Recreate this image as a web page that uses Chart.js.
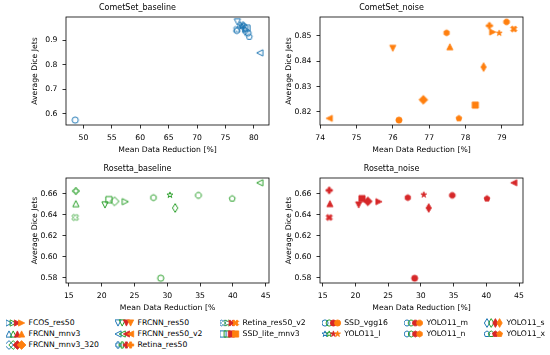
<!DOCTYPE html>
<html>
<head>
<meta charset="utf-8">
<script src="https://cdn.jsdelivr.net/npm/chart.js@4.4.1/dist/chart.umd.min.js"></script>
<style>
  body { margin: 0; background: #fff; }
  #wrap { position: relative; width: 550px; height: 355px; overflow: hidden; font-family: 'DejaVu Sans', sans-serif; background: #fff; }
  canvas.panel { position: absolute; }
  .leg { position: absolute; height: 10px; font-size: 7.7px; line-height: 10px; white-space: nowrap; color: #000; }
  .leg canvas { position: absolute; left: 0; top: 0; }
  .leg span { position: absolute; left: 22.5px; top: 0; }
</style>
</head>
<body>
<div id="wrap">
  <canvas id="c1" class="panel"></canvas>
  <canvas id="c2" class="panel"></canvas>
  <canvas id="c3" class="panel"></canvas>
  <canvas id="c4" class="panel"></canvas>
  <div id="legend"></div>
</div>
<script>
// models and their matplotlib-like markers
const models = ['FCOS_res50', 'FRCNN_mnv3', 'FRCNN_mnv3_320', 'FRCNN_res50', 'FRCNN_res50_v2',
  'Retina_res50', 'Retina_res50_v2', 'SSD_lite_mnv3', 'SSD_vgg16', 'YOLO11_l',
  'YOLO11_m', 'YOLO11_n', 'YOLO11_s', 'YOLO11_x'];
const markerShapes = ['>', '^', 'D', 'v', '<', 'P', 'X', 's', 'o', '*', '8', 'h', 'd', 'p'];

// CometSet baseline
const cometBaseX = [78.6, 77.6, 78.3, 77.1, 81.05, 78.1, 77.0, 78.8, 48.55, 77.9, 79.0, 77.0, 78.5, 79.2];
const cometBaseY = [0.945, 0.965, 0.955, 0.976, 0.849, 0.962, 0.945, 0.950, 0.573, 0.958, 0.930, 0.940, 0.938, 0.915];
// CometSet noise
const cometNoiseX = [78.75, 77.57, 76.84, 76.0, 74.25, 78.66, 79.33, 78.27, 76.17, 78.93, 79.13, 77.48, 78.5, 77.82];
const cometNoiseY = [0.8515, 0.8457, 0.8248, 0.8451, 0.8175, 0.854, 0.8527, 0.8227, 0.8168, 0.8511, 0.8555, 0.8512, 0.8377, 0.8175];
// Rosetta baseline
const rosBaseX = [23.6, 16.06, 21.97, 20.5, 44.1, 16.06, 15.97, 21.1, 29.0, 30.4, 34.75, 27.9, 31.2, 39.9];
const rosBaseY = [0.6524, 0.6505, 0.6527, 0.6493, 0.6704, 0.6625, 0.6373, 0.6543, 0.5794, 0.6587, 0.6584, 0.6562, 0.6464, 0.6553];
// Rosetta noise
const rosNoiseX = [23.6, 16.1, 21.9, 20.5, 44.2, 16.0, 16.0, 21.0, 29.05, 30.45, 34.8, 28.0, 31.2, 40.1];
const rosNoiseY = [0.6524, 0.6505, 0.6527, 0.6493, 0.6704, 0.6632, 0.6373, 0.6553, 0.5794, 0.659, 0.6584, 0.6562, 0.6464, 0.6553];

const BLUE = '#1f77b4', ORANGE = '#ff7f0e', GREEN = '#2ca02c', RED = '#d62728';
const MS = 6.2;

Chart.defaults.font.family = "'DejaVu Sans', sans-serif";
Chart.defaults.font.size = 7.7;
Chart.defaults.color = '#000';

function regPoly(n, r, rot) {
  const pts = [];
  for (let i = 0; i < n; i++) {
    const th = 2 * Math.PI * i / n + Math.PI / 2 + rot * Math.PI / 180;
    pts.push([r * Math.cos(th), r * Math.sin(th)]);
  }
  return pts;
}

function shapePoints(shape) {
  switch (shape) {
    case '^': return [[0, 0.5], [-0.5, -0.5], [0.5, -0.5]];
    case 'v': return [[0, -0.5], [-0.5, 0.5], [0.5, 0.5]];
    case '<': return [[-0.5, 0], [0.5, 0.5], [0.5, -0.5]];
    case '>': return [[0.5, 0], [-0.5, 0.5], [-0.5, -0.5]];
    case 's': return [[-0.5, -0.5], [0.5, -0.5], [0.5, 0.5], [-0.5, 0.5]];
    case 'D': return [[0.707, 0], [0, 0.707], [-0.707, 0], [0, -0.707]];
    case 'd': return [[0.424, 0], [0, 0.707], [-0.424, 0], [0, -0.707]];
    case 'P': return [[-1, -3], [-1, -1], [-3, -1], [-3, 1], [-1, 1], [-1, 3], [1, 3], [1, 1], [3, 1], [3, -1], [1, -1], [1, -3]].map(p => [p[0] / 6, p[1] / 6]);
    case 'X': return [[-1, -2], [0, -1], [1, -2], [2, -1], [1, 0], [2, 1], [1, 2], [0, 1], [-1, 2], [-2, 1], [-1, 0], [-2, -1]].map(p => [p[0] / 4, p[1] / 4]);
    case 'p': return regPoly(5, 0.5, 0);
    case 'h': return regPoly(6, 0.5, 0);
    case '8': return regPoly(8, 0.5, 22.5);
    case '*': {
      const pts = [];
      for (let i = 0; i < 10; i++) {
        const th = 2 * Math.PI * i / 10 + Math.PI / 2;
        const r = i % 2 ? 0.5 * 0.381966 : 0.5;
        pts.push([r * Math.cos(th), r * Math.sin(th)]);
      }
      return pts;
    }
  }
  return null;
}

function drawShape(ctx, shape, cx, cy, ms, color, filled) {
  ctx.beginPath();
  const pts = shapePoints(shape);
  if (!pts) {
    ctx.arc(cx, cy, ms / 2, 0, Math.PI * 2);
  } else {
    pts.forEach((p, i) => {
      const x = cx + p[0] * ms, y = cy - p[1] * ms;
      if (i) ctx.lineTo(x, y); else ctx.moveTo(x, y);
    });
    ctx.closePath();
  }
  ctx.lineJoin = 'miter';
  ctx.strokeStyle = color;
  if (filled) {
    ctx.fillStyle = color;
    ctx.fill();
    ctx.lineWidth = 0.8;
  } else {
    ctx.lineWidth = 1;
  }
  ctx.stroke();
}

function marker(shape, color, filled) {
  const c = document.createElement('canvas');
  c.width = 14; c.height = 14;
  drawShape(c.getContext('2d'), shape, 7, 7, MS, color, filled);
  return c;
}

// box around the plotting area, like matplotlib spines
const framePlugin = {
  id: 'frame',
  afterDraw(chart) {
    const { ctx, chartArea: a } = chart;
    ctx.save();
    ctx.strokeStyle = '#000';
    ctx.lineWidth = 0.8;
    ctx.strokeRect(a.left, a.top, a.right - a.left, a.bottom - a.top);
    ctx.restore();
  }
};

const panels = [
  { id: 'c1', title: 'CometSet_baseline', xs: cometBaseX, ys: cometBaseY, color: BLUE, filled: false, area: [66, 17, 269, 125], xStep: 5, yStep: 0.1, xDec: 0, yDec: 1, xLabel: 'Mean Data Reduction [%]' },
  { id: 'c2', title: 'CometSet_noise', xs: cometNoiseX, ys: cometNoiseY, color: ORANGE, filled: true, area: [320, 17, 523, 125], xStep: 1, yStep: 0.01, xDec: 0, yDec: 2, xLabel: 'Mean Data Reduction [%]' },
  { id: 'c3', title: 'Rosetta_baseline', xs: rosBaseX, ys: rosBaseY, color: GREEN, filled: false, area: [66, 178, 269, 283], xStep: 5, yStep: 0.02, xDec: 0, yDec: 2, xLabel: 'Mean Data Reduction [%' },
  { id: 'c4', title: 'Rosetta_noise', xs: rosNoiseX, ys: rosNoiseY, color: RED, filled: true, area: [320, 178, 523, 283], xStep: 5, yStep: 0.02, xDec: 0, yDec: 2, xLabel: 'Mean Data Reduction [%]' }
];

const LEFT_W = 60, TOP_H = 16, BOTTOM_H = 34, RIGHT_PAD = 10;

function padRange(vals) {
  const lo = Math.min(...vals), hi = Math.max(...vals);
  const m = (hi - lo) * 0.05;
  return [lo - m, hi + m];
}

panels.forEach(p => {
  const [l, t, r, b] = p.area;
  const cv = document.getElementById(p.id);
  cv.width = (r - l) + LEFT_W + RIGHT_PAD;
  cv.height = (b - t) + TOP_H + BOTTOM_H;
  cv.style.left = (l - LEFT_W) + 'px';
  cv.style.top = (t - TOP_H) + 'px';

  const [xmin, xmax] = padRange(p.xs);
  const [ymin, ymax] = padRange(p.ys);
  const points = p.xs.map((x, i) => ({ x: x, y: p.ys[i] }));
  const styles = markerShapes.map(s => marker(s, p.color, p.filled));

  new Chart(cv.getContext('2d'), {
    type: 'scatter',
    data: {
      datasets: [{
        data: points,
        pointStyle: styles,
        pointRadius: 3,
        pointHoverRadius: 3,
        clip: false
      }]
    },
    options: {
      responsive: false,
      animation: false,
      events: [],
      layout: { padding: { left: 0, right: RIGHT_PAD, top: 0, bottom: 0 } },
      plugins: {
        legend: { display: false },
        tooltip: { enabled: false },
        title: {
          display: true,
          text: p.title,
          color: '#000',
          font: { size: 8, weight: 'normal' },
          padding: { top: 2, bottom: 4.4 }
        }
      },
      scales: {
        x: {
          type: 'linear',
          min: xmin, max: xmax,
          afterFit: s => { s.height = BOTTOM_H; },
          border: { display: false },
          grid: { drawOnChartArea: false, tickLength: 3.5, tickColor: '#000', tickWidth: 0.8 },
          ticks: {
            stepSize: p.xStep, includeBounds: false, autoSkip: false, maxRotation: 0, padding: 5,
            callback: v => v.toFixed(p.xDec)
          },
          title: { display: true, text: p.xLabel, padding: { top: 0, bottom: 4 } }
        },
        y: {
          type: 'linear',
          min: ymin, max: ymax,
          afterFit: s => { s.width = LEFT_W; },
          border: { display: false },
          grid: { drawOnChartArea: false, tickLength: 3.5, tickColor: '#000', tickWidth: 0.8 },
          ticks: {
            stepSize: p.yStep, includeBounds: false, autoSkip: false, padding: 5,
            callback: v => v.toFixed(p.yDec)
          },
          title: { display: true, text: 'Average Dice Jets', padding: { top: 24.4, bottom: 0 } }
        }
      }
    },
    plugins: [framePlugin]
  });
});

// legend: 6 columns, each entry shows the four panel markers side by side
const colX = [6, 115, 220, 321.7, 404, 484];
const rowY = [323.3, 333.8, 344.5];
const legend = document.getElementById('legend');
models.forEach((name, i) => {
  let col, row;
  if (i < 6) { col = Math.floor(i / 3); row = i % 3; }
  else { col = 2 + Math.floor((i - 6) / 2); row = (i - 6) % 2; }
  const d = document.createElement('div');
  d.className = 'leg';
  d.style.left = colX[col] + 'px';
  d.style.top = (rowY[row] - 5) + 'px';
  const ic = document.createElement('canvas');
  ic.width = 22; ic.height = 10;
  const ictx = ic.getContext('2d');
  [[BLUE, false], [GREEN, false], [RED, true], [ORANGE, true]].forEach((c, k) => {
    drawShape(ictx, markerShapes[i], 3 + k * 4.2, 5, MS, c[0], c[1]);
  });
  const sp = document.createElement('span');
  sp.textContent = name;
  d.appendChild(ic);
  d.appendChild(sp);
  legend.appendChild(d);
});
</script>
</body>
</html>
